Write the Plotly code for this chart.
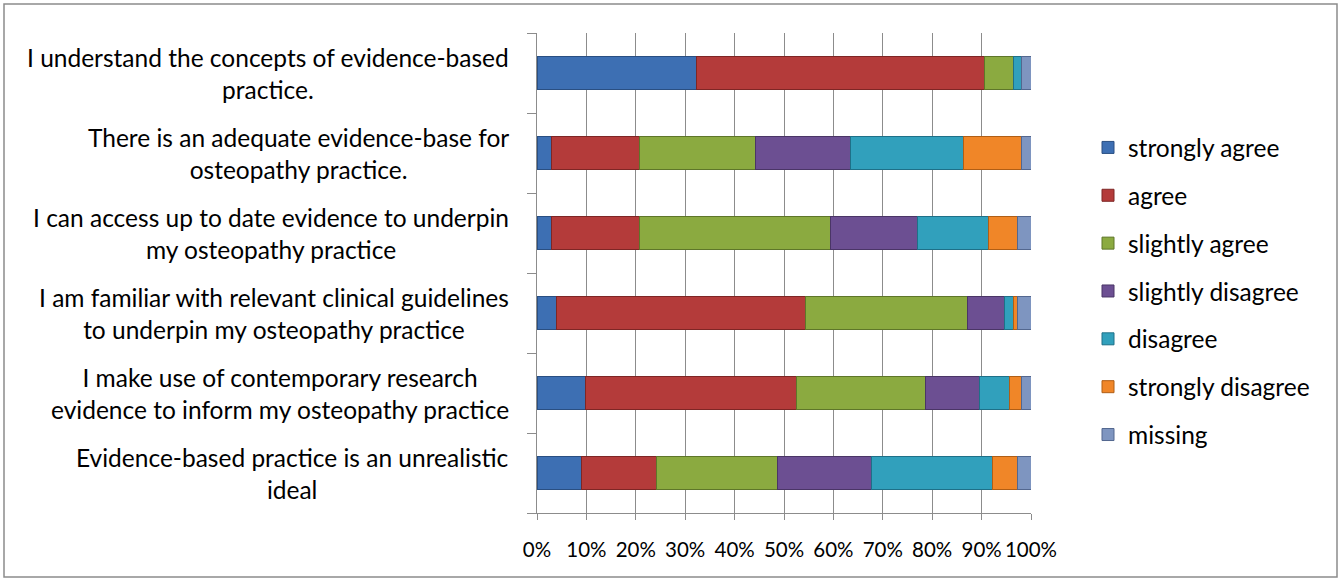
import plotly.graph_objects as go

categories = [
    "I understand the concepts of evidence-based<br>practice.",
    "There is an adequate evidence-base for<br>osteopathy practice.",
    "I can access up to date evidence to underpin<br>my osteopathy practice",
    "I am familiar with relevant clinical guidelines<br>to underpin my osteopathy practice",
    "I make use of contemporary research<br>evidence to inform my osteopathy practice",
    "Evidence-based practice is an unrealistic<br>ideal",
]
series_names = ["strongly agree", "agree", "slightly agree", "slightly disagree",
                "disagree", "strongly disagree", "missing"]
strongly_agree    = [32.3, 3.0, 3.0, 3.9, 9.8, 9.0]
agree             = [58.3, 17.7, 17.7, 50.5, 42.8, 15.1]
slightly_agree    = [5.8, 23.6, 38.8, 32.7, 26.1, 24.5]
slightly_disagree = [0.0, 19.2, 17.6, 7.6, 10.9, 19.1]
disagree          = [1.6, 22.8, 14.3, 1.7, 6.0, 24.6]
strongly_disagree = [0.0, 11.8, 5.9, 0.8, 2.5, 5.0]
missing           = [2.0, 1.9, 2.7, 2.8, 1.9, 2.7]
series_values = [strongly_agree, agree, slightly_agree, slightly_disagree,
                 disagree, strongly_disagree, missing]
colors = ["#3D6FB3", "#B43B3A", "#8BAA40", "#6C4F92", "#31A0BC", "#F08628", "#7E95C0"]
edges = ["#2A4F82", "#7E2625", "#5E7629", "#4A3566", "#1E7088", "#B05E15", "#53678F"]
x_ticks = [0, 10, 20, 30, 40, 50, 60, 70, 80, 90, 100]
x_tick_labels = [f"{t}%" for t in x_ticks]

FONT = "Lato, 'Open Sans', sans-serif"
LABEL_SIZE = 24.5

fig = go.Figure()
for name, vals, c, e in zip(series_names, series_values, colors, edges):
    fig.add_trace(go.Bar(
        y=categories, x=vals, name=name, orientation="h",
        marker=dict(color=c, line=dict(color=e, width=1)),
        width=0.42, legendgroup=name,
    ))

W, H = 1343, 578
L, R, T, B = 537, 1031, 33, 513
def px(x):
    return (x - L) / (R - L)
def py(y):
    return (B - y) / (B - T)

fig.update_layout(
    barmode="stack",
    width=W, height=H,
    margin=dict(l=L, r=W - R, t=T, b=H - B),
    paper_bgcolor="white", plot_bgcolor="white",
    font=dict(family=FONT, size=20, color="black"),
    showlegend=True,
    legend=dict(x=px(1088), y=py(125), xanchor="left", yanchor="top",
                tracegroupgap=13, font=dict(size=LABEL_SIZE, family=FONT),
                itemwidth=30),
    bargap=0.58,
)
fig.update_xaxes(
    range=[0, 100], tickvals=x_ticks, ticktext=x_tick_labels,
    showgrid=True, gridcolor="#8C8C8C", gridwidth=1,
    showline=True, linecolor="#8C8C8C", linewidth=1,
    ticks="outside", ticklen=6, tickcolor="#8C8C8C",
    ticklabelstandoff=12, zeroline=False,
    tickfont=dict(size=20.5, family=FONT),
)
fig.update_yaxes(
    categoryorder="array", categoryarray=categories[::-1],
    showticklabels=False, showline=True, linecolor="#8C8C8C", linewidth=1,
    ticks="outside", ticklen=9, tickcolor="#8C8C8C", tickson="boundaries",
    showgrid=False,
)
for cat in categories:
    fig.add_annotation(
        x=px(511), y=cat, xref="paper", yref="y", text=cat,
        showarrow=False, xanchor="right", yanchor="middle", align="center",
        font=dict(size=LABEL_SIZE, family=FONT, color="black"),
    )
fig.add_shape(type="rect", xref="paper", yref="paper",
              x0=px(4), x1=px(1337), y0=py(577), y1=py(4),
              line=dict(color="#8C8C8C", width=1.5), fillcolor="rgba(0,0,0,0)",
              layer="below")

fig.write_html("out.html")
